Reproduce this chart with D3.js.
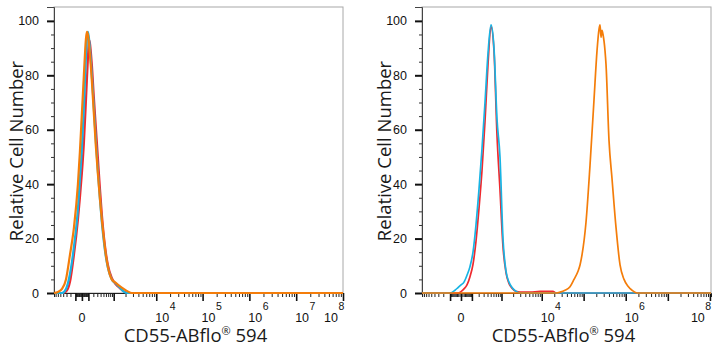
<!DOCTYPE html>
<html>
<head>
<meta charset="utf-8">
<script src="https://cdn.jsdelivr.net/npm/d3@7"></script>
<style>
  body { margin: 0; background: #fff; }
  svg { display: block; }
</style>
</head>
<body>
<div id="chart"></div>
<script>
/* DATA */
// left panel: one shared channel grid, three overlaid histograms
const leftX = [-780, -593, -441, -315, -212, -127, -57, -27, 0, 27, 57, 73, 91, 108, 127, 167, 212, 261, 315, 375,
  441, 514, 593, 682, 887, 1137, 1441, 1810, 2258, 2805, 3469, 1e5, 1e7, 1e8];
const leftRed = [0, 0, 0, 0.5, 4, 14, 27, 35, 44, 55, 70, 78, 86, 93, 92, 84, 72, 61, 50, 39,
  29, 21, 15, 10.5, 5.5, 3.2, 1.8, 0.6, 0, 0, 0, 0, 0, 0];
const leftCyan = [0, 0, 0, 1.5, 7, 17, 31, 42, 53, 68, 86, 93, 96, 94, 90, 80, 68, 56, 45, 35,
  26, 19, 13.5, 9.5, 5, 3.5, 2, 0.5, 0, 0, 0, 0, 0, 0];
const leftOrange = [0, 0.4, 1.5, 5, 14, 24, 40, 52, 66, 80, 93, 96, 95, 92, 88, 78, 66, 54, 44, 35,
  27, 20, 14, 9.7, 5, 3.7, 2.5, 1.5, 0.6, 0, 0, 0, 0, 0];

// right panel: shared grid, two unstained-like peaks and the shifted orange peak
const rightX = [-910, -264, -101, -47.5, -21.8, 0, 21.8, 47.5, 77.9, 113.7, 155.6, 205, 264, 333, 414, 510, 622, 755,
  911, 1096, 1313, 1569, 1871, 2356, 2962, 5213, 9090, 18630, 22010, 27430, 36060, 47430, 59060, 73530, 82070,
  91530, 113900, 141900, 176500, 208000, 232300, 245400, 259000, 273600, 289000, 322400, 340400, 401100, 473000,
  588900, 733000, 912200, 1135000, 1413000, 1858000, 1.06e8];
const rightRed = [0, 0, 0, 0, 0, 0.5, 1.5, 3, 6, 10.5, 19, 31, 45, 63, 84, 98, 89, 58,
  38, 17, 7.5, 3.5, 1.8, 0.6, 0.3, 0.3, 0.6, 0.6, 0, 0, 0, 0, 0, 0, 0,
  0, 0, 0, 0, 0, 0, 0, 0, 0, 0, 0, 0, 0, 0,
  0, 0, 0, 0, 0, 0, 0];
const rightCyan = [0, 0, 0, 1, 2, 3, 4, 6.5, 9.7, 15, 25, 38, 53, 70, 88, 98.5, 90, 64,
  50, 20, 8, 4, 2, 0.6, 0, 0, 0, 0, 0, 0, 0, 0, 0, 0, 0,
  0, 0, 0, 0, 0, 0, 0, 0, 0, 0, 0, 0, 0, 0,
  0, 0, 0, 0, 0, 0, 0];
const rightOrange = [0, 0, 0, 0, 0, 0, 0, 0, 0, 0, 0, 0, 0, 0, 0, 0, 0, 0,
  0, 0, 0, 0, 0, 0, 0, 0, 0, 0, 0, 0.3, 1, 2.3, 5, 8, 10.3,
  14, 26, 47, 71, 89, 97, 98.5, 94, 96.5, 95, 89, 84, 56, 42,
  24, 10.3, 5, 2.5, 1, 0, 0];

const yTicks = [0, 20, 40, 60, 80, 100];
const leftLabels = [0, 1e4, 1e5, 1e6, 1e7, 1e8];
const rightLabels = [0, 1e4, 1e6, 1e8];

const colors = { red: "#ee2a2f", cyan: "#18b4e4", orange: "#f47d0a" };

/* LAYOUT */
const width = 721, height = 350;
const plotTop = 7, plotBottom = 293;
const tickFont = "'Liberation Sans', Arial, sans-serif";
const titleFont = "'Open Sans', 'Noto Sans', sans-serif";

const svg = d3.select("#chart").append("svg")
  .attr("width", width)
  .attr("height", height);

svg.append("rect").attr("width", width).attr("height", height).attr("fill", "#fff");

const yScale = d3.scaleLinear().domain([0, 105.1]).range([plotBottom, plotTop]);

// biexponential-ish display -> symlog
function decadeTicks(lo, hi) {
  const minor = [], major = [0];
  for (let k = 1; k <= 8; k++) {
    for (let m = 1; m <= 9; m++) {
      const v = m * Math.pow(10, k);
      [v, -v].forEach(t => {
        if (t >= lo && t <= hi) (m === 1 && k >= 2 ? major : minor).push(t);
      });
    }
  }
  return { minor, major };
}

function drawPanel(cfg) {
  const x = d3.scaleSymlog().constant(cfg.c).domain(cfg.domain).range(cfg.range);
  const g = svg.append("g");

  // frame
  g.append("rect")
    .attr("x", cfg.range[0]).attr("y", plotTop)
    .attr("width", cfg.range[1] - cfg.range[0]).attr("height", plotBottom - plotTop)
    .attr("fill", "none").attr("stroke", "#a8a8a8").attr("stroke-width", 1);

  // y axis
  const yMinor = d3.range(0, 105, 5).filter(v => v % 20 !== 0);
  g.append("g")
    .attr("transform", `translate(${cfg.range[0]},0)`)
    .call(d3.axisLeft(yScale).tickValues(yMinor).tickSize(3).tickFormat(""))
    .call(a => a.select(".domain").remove())
    .call(a => a.selectAll("text").remove())
    .call(a => a.selectAll("line").attr("stroke", "#333"));
  g.append("g")
    .attr("transform", `translate(${cfg.range[0]},0)`)
    .call(d3.axisLeft(yScale).tickValues(yTicks).tickSize(7).tickPadding(8))
    .call(a => a.select(".domain").attr("stroke", "#444"))
    .call(a => a.selectAll("line").attr("stroke", "#111").attr("stroke-width", 2))
    .call(a => a.selectAll("text")
      .attr("font-family", tickFont)
      .attr("font-size", 12.5).attr("fill", "#111"));

  // x axis ticks (labels drawn separately below)
  const t = decadeTicks(cfg.domain[0], cfg.domain[1]);
  g.append("g")
    .attr("transform", `translate(0,${plotBottom})`)
    .call(d3.axisBottom(x).tickValues(t.minor).tickSize(4).tickFormat(""))
    .call(a => a.select(".domain").attr("stroke", "#222"))
    .call(a => a.selectAll("text").remove())
    .call(a => a.selectAll("line").attr("stroke", "#222"));
  g.append("g")
    .attr("transform", `translate(0,${plotBottom})`)
    .call(d3.axisBottom(x).tickValues(t.major).tickSize(8).tickFormat(""))
    .call(a => a.select(".domain").remove())
    .call(a => a.selectAll("text").remove())
    .call(a => a.selectAll("line").attr("stroke", "#111").attr("stroke-width", 1.6));

  // x tick labels (0 and powers of ten with a raised exponent)
  const labels = g.append("g")
    .attr("font-family", tickFont)
    .attr("fill", "#111");
  cfg.labels.forEach((v, i) => {
    if (v === 0) {
      labels.append("text").attr("x", x(0)).attr("y", 322)
        .attr("text-anchor", "middle").attr("font-size", 12.5).text("0");
      return;
    }
    const last = i === cfg.labels.length - 1;
    const txt = labels.append("text")
      .attr("x", last ? x(v) - 19 : x(v) - 1)   // last label kept inside the frame
      .attr("y", 322)
      .attr("font-size", 12.5);
    txt.append("tspan").text("10");
    txt.append("tspan").attr("dx", 0.5).attr("dy", -12).attr("font-size", 10.5)
      .text(Math.round(Math.log10(v)));
  });

  // axis titles
  g.append("text")
    .attr("transform", `translate(${cfg.range[0] - 31},151) rotate(-90)`)
    .attr("text-anchor", "middle")
    .attr("font-family", titleFont)
    .attr("font-size", 18.5).attr("fill", "#1a1a1a")
    .text("Relative Cell Number");

  const xt = g.append("text")
    .attr("x", (cfg.range[0] + cfg.range[1]) / 2 - 3).attr("y", 342)
    .attr("text-anchor", "middle")
    .attr("font-family", titleFont)
    .attr("font-size", 18.5).attr("fill", "#1a1a1a");
  xt.append("tspan").text("CD55-ABflo");
  xt.append("tspan").attr("font-size", 11).attr("dy", -7).text("®");
  xt.append("tspan").attr("dy", 7).text(" 594");

  // histograms
  const line = d3.line()
    .x((d, i) => x(cfg.xs[i]))
    .y(d => yScale(d))
    .curve(d3.curveMonotoneX);

  cfg.series.forEach(s => {
    g.append("path")
      .datum(s.values)
      .attr("fill", "none")
      .attr("stroke", s.color)
      .attr("stroke-width", cfg.lw)
      .attr("stroke-linejoin", "round")
      .attr("d", line);
  });
}

drawPanel({
  c: 265, domain: [-780, 1e8], range: [54, 343],
  xs: leftX, labels: leftLabels, lw: 2.2,
  series: [
    { values: leftRed, color: colors.red },
    { values: leftCyan, color: colors.cyan },
    { values: leftOrange, color: colors.orange }
  ]
});

drawPanel({
  c: 122.5, domain: [-910, 1.06e8], range: [422, 711],
  xs: rightX, labels: rightLabels, lw: 1.7,
  series: [
    { values: rightRed, color: colors.red },
    { values: rightCyan, color: colors.cyan },
    { values: rightOrange, color: colors.orange }
  ]
});
</script>
</body>
</html>
